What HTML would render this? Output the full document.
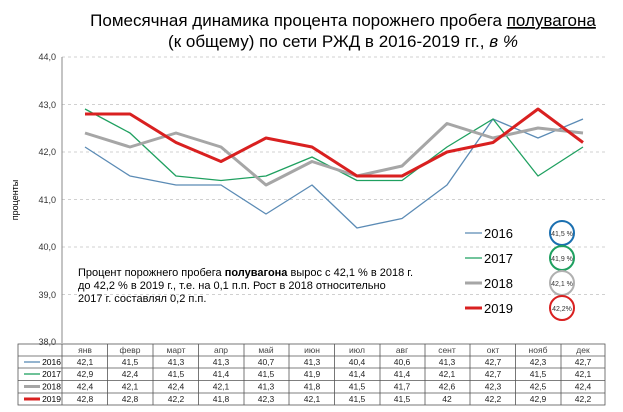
<!DOCTYPE html>
<html><head><meta charset="utf-8"><style>
body{margin:0;background:#fff;width:623px;height:407px;overflow:hidden;font-family:"Liberation Sans",Arial,sans-serif}
</style></head><body>
<svg width="623" height="407" xmlns="http://www.w3.org/2000/svg" font-family="Liberation Sans, Arial, sans-serif">
<text x="343" y="26" font-size="17" text-anchor="middle">Помесячная динамика процента порожнего пробега <tspan text-decoration="underline">полувагона</tspan></text>
<text x="343" y="47" font-size="17" text-anchor="middle">(к общему) по сети РЖД в 2016-2019 гг., <tspan font-style="italic">в %</tspan></text>
<g stroke="#d0d0d0" stroke-dasharray="3,3" stroke-width="1">
<line x1="62" x2="605" y1="57" y2="57"/><line x1="62" x2="605" y1="104.5" y2="104.5"/>
<line x1="62" x2="605" y1="152" y2="152"/><line x1="62" x2="605" y1="199.5" y2="199.5"/>
<line x1="62" x2="605" y1="247" y2="247"/><line x1="62" x2="605" y1="294.5" y2="294.5"/>
</g>
<line x1="62" x2="62" y1="57" y2="343" stroke="#888"/>
<g font-size="9" fill="#333" text-anchor="end">
<text x="56" y="60">44,0</text><text x="56" y="108">43,0</text><text x="56" y="155">42,0</text>
<text x="56" y="203">41,0</text><text x="56" y="250">40,0</text><text x="56" y="298">39,0</text><text x="56" y="345">38,0</text>
</g>
<text transform="translate(18,200) rotate(-90)" font-size="9" text-anchor="middle">проценты</text>
<g fill="none" stroke-linejoin="round">
<polyline stroke="#5b8bb5" stroke-width="1.3" points="85,147 130,176 176,185 221,185 266,214 312,185 357,228 402,218.5 447,185 493,119 538,138 583,119"/>
<polyline stroke="#1fa060" stroke-width="1.3" points="85,109 130,133 176,176 221,180.5 266,176 312,157 357,180.5 402,180.5 447,147 493,119 538,176 583,147"/>
<polyline stroke="#a6a6a6" stroke-width="3" points="85,133 130,147 176,133 221,147 266,185 312,161.5 357,176 402,166 447,123.5 493,138 538,128 583,133"/>
<polyline stroke="#d92020" stroke-width="3" points="85,114 130,114 176,142.5 221,161.5 266,138 312,147 357,176 402,176 447,152 493,142.5 538,109 583,142.5"/>
</g>
<g font-size="11">
<text x="78" y="276">Процент порожнего пробега <tspan font-weight="bold">полувагона</tspan> вырос с  42,1 % в 2018 г.</text>
<text x="78" y="289">до 42,2 % в 2019 г., т.е. на 0,1 п.п. Рост в 2018 относительно</text>
<text x="78" y="302">2017 г.  составлял 0,2 п.п.</text>
</g>
<g font-size="13">
<line x1="465" x2="482" y1="233" y2="233" stroke="#5b8bb5" stroke-width="1.3"/><text x="484" y="238">2016</text>
<line x1="465" x2="482" y1="258" y2="258" stroke="#1fa060" stroke-width="1.3"/><text x="484" y="263">2017</text>
<line x1="465" x2="482" y1="283" y2="283" stroke="#a6a6a6" stroke-width="3"/><text x="484" y="288">2018</text>
<line x1="465" x2="482" y1="308" y2="308" stroke="#d92020" stroke-width="3"/><text x="484" y="313">2019</text>
</g>
<g fill="none" stroke-width="2">
<circle cx="562" cy="233" r="12" stroke="#1a6fb0"/><circle cx="562" cy="258" r="12" stroke="#1fa060"/>
<circle cx="562" cy="283" r="12" stroke="#b0b0b0"/><circle cx="562" cy="308" r="12" stroke="#d92020"/>
</g>
<g font-size="7" text-anchor="middle" fill="#333">
<text x="562" y="236">41,5 %</text><text x="562" y="261">41,9 %</text><text x="562" y="286">42,1 %</text><text x="562" y="311">42,2%</text>
</g>
<g stroke="#555" stroke-width="0.8" fill="none">
<rect x="18" y="344" width="587" height="61"/>
<line x1="18" x2="605" y1="356" y2="356"/><line x1="18" x2="605" y1="368" y2="368"/>
<line x1="18" x2="605" y1="380.5" y2="380.5"/><line x1="18" x2="605" y1="393" y2="393"/>
<line x1="62" x2="62" y1="344" y2="405"/><line x1="107.5" x2="107.5" y1="344" y2="405"/>
<line x1="153" x2="153" y1="344" y2="405"/><line x1="198.5" x2="198.5" y1="344" y2="405"/>
<line x1="244" x2="244" y1="344" y2="405"/><line x1="289" x2="289" y1="344" y2="405"/>
<line x1="334.5" x2="334.5" y1="344" y2="405"/><line x1="380" x2="380" y1="344" y2="405"/>
<line x1="425" x2="425" y1="344" y2="405"/><line x1="470" x2="470" y1="344" y2="405"/>
<line x1="515.5" x2="515.5" y1="344" y2="405"/><line x1="561" x2="561" y1="344" y2="405"/>
</g>
<line x1="24" x2="40" y1="362" y2="362" stroke="#5b8bb5" stroke-width="1.3"/>
<line x1="24" x2="40" y1="374" y2="374" stroke="#1fa060" stroke-width="1.3"/>
<line x1="24" x2="40" y1="386.5" y2="386.5" stroke="#a6a6a6" stroke-width="3"/>
<line x1="24" x2="40" y1="399" y2="399" stroke="#d92020" stroke-width="3"/>
<g font-size="8.5" text-anchor="end"><text x="61" y="365">2016</text><text x="61" y="377">2017</text><text x="61" y="389.5">2018</text><text x="61" y="402">2019</text></g>
<g font-size="8.5" text-anchor="middle" fill="#222">
<g fill="#444"><text x="85" y="353">янв</text><text x="130" y="353">февр</text><text x="176" y="353">март</text><text x="221" y="353">апр</text><text x="266" y="353">май</text><text x="312" y="353">июн</text><text x="357" y="353">июл</text><text x="402" y="353">авг</text><text x="447" y="353">сент</text><text x="493" y="353">окт</text><text x="538" y="353">нояб</text><text x="583" y="353">дек</text></g>
<text x="85" y="365">42,1</text><text x="130" y="365">41,5</text><text x="176" y="365">41,3</text><text x="221" y="365">41,3</text><text x="266" y="365">40,7</text><text x="312" y="365">41,3</text><text x="357" y="365">40,4</text><text x="402" y="365">40,6</text><text x="447" y="365">41,3</text><text x="493" y="365">42,7</text><text x="538" y="365">42,3</text><text x="583" y="365">42,7</text>
<text x="85" y="377">42,9</text><text x="130" y="377">42,4</text><text x="176" y="377">41,5</text><text x="221" y="377">41,4</text><text x="266" y="377">41,5</text><text x="312" y="377">41,9</text><text x="357" y="377">41,4</text><text x="402" y="377">41,4</text><text x="447" y="377">42,1</text><text x="493" y="377">42,7</text><text x="538" y="377">41,5</text><text x="583" y="377">42,1</text>
<text x="85" y="389.5">42,4</text><text x="130" y="389.5">42,1</text><text x="176" y="389.5">42,4</text><text x="221" y="389.5">42,1</text><text x="266" y="389.5">41,3</text><text x="312" y="389.5">41,8</text><text x="357" y="389.5">41,5</text><text x="402" y="389.5">41,7</text><text x="447" y="389.5">42,6</text><text x="493" y="389.5">42,3</text><text x="538" y="389.5">42,5</text><text x="583" y="389.5">42,4</text>
<text x="85" y="402">42,8</text><text x="130" y="402">42,8</text><text x="176" y="402">42,2</text><text x="221" y="402">41,8</text><text x="266" y="402">42,3</text><text x="312" y="402">42,1</text><text x="357" y="402">41,5</text><text x="402" y="402">41,5</text><text x="447" y="402">42</text><text x="493" y="402">42,2</text><text x="538" y="402">42,9</text><text x="583" y="402">42,2</text>
</g>
</svg>
</body></html>
